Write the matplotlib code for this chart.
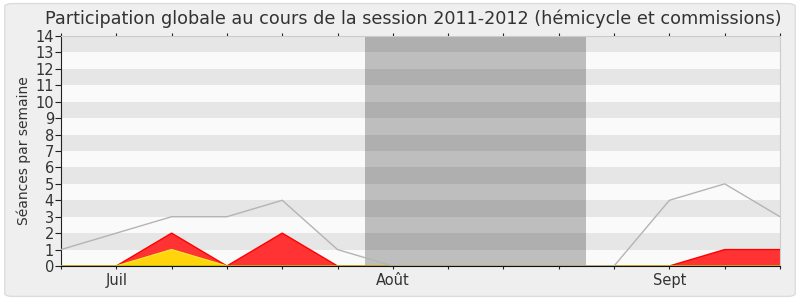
import matplotlib
matplotlib.use("Agg")
import matplotlib.pyplot as plt
from matplotlib.patches import FancyBboxPatch
import numpy as np

weeks = list(range(14))
total = [1, 2, 3, 3, 4, 1, 0, 0, 0, 0, 0, 4, 5, 3]
green_vals = [0] * 14
yellow_vals = [0, 0, 1, 0, 0, 0, 0, 0, 0, 0, 0, 0, 0, 0]
red_vals = [0, 0, 1, 0, 2, 0, 0, 0, 0, 0, 0, 0, 1, 1]
tick_labels = {1: "Juil", 6: "Août", 11: "Sept"}
vacation = (5.5, 9.5)
title = "Participation globale au cours de la session 2011-2012 (hémicycle et commissions)"
ylabel = "Séances par semaine"

plt.rcParams['font.family'] = ['DejaVu Sans']

fig = plt.figure(figsize=(8, 3), dpi=100)
fig.patch.set_facecolor("white")
bg = FancyBboxPatch((0.006, 0.012), 0.988, 0.976, boxstyle="round,pad=0,rounding_size=0.01",
                    transform=fig.transFigure, facecolor="#efefef", edgecolor="#dcdcdc",
                    linewidth=1, zorder=-10)
fig.patches.append(bg)

ax = fig.add_axes([61/800, 34/300, 719/800, 230/300])
ax.set_facecolor("#fafafa")
for k in range(14):
    ax.axhspan(k, k + 1, color="#fafafa" if k % 2 == 0 else "#e6e6e6", lw=0, zorder=0)
ax.axvspan(vacation[0], vacation[1], color="black", alpha=0.24, lw=0, zorder=0.5)

x = np.array(weeks)
g = np.array(green_vals)
y = g + np.array(yellow_vals)
r = y + np.array(red_vals)
ax.fill_between(x, y, r, facecolor="#ff3333", edgecolor="none", zorder=2)
ax.plot(x, r, color="#ff0000", lw=1, zorder=3)
ax.fill_between(x, g, y, facecolor="#ffd40a", edgecolor="none", zorder=2)
ax.plot(x, y, color="#f5e52a", lw=1, zorder=3)
ax.plot(x, g, color="#228b22", lw=1, zorder=3)
ax.plot(x, total, color="#b4b4b4", lw=1, zorder=4)

ax.set_xlim(0, 13)
ax.set_ylim(0, 14)
ax.set_yticks(range(15))
ax.set_xticks(weeks)
ax.set_xticklabels([tick_labels.get(w, "") for w in weeks])
ax.tick_params(axis="y", direction="out", length=4, labelsize=10.5, colors="#333333", pad=1)
ax.tick_params(axis="x", direction="out", length=5, labelsize=10.5, colors="#333333", pad=3)
ax.tick_params(axis="x", top=True, length=2)
for lab in ax.get_yticklabels() + ax.get_xticklabels():
    lab.set_color("#333333")
ax.tick_params(axis="both", color="#222222")
ax.spines["left"].set_color("#222222")
ax.spines["bottom"].set_color("#111111")
ax.spines["bottom"].set_zorder(5)
ax.spines["top"].set_color("#cccccc")
ax.spines["right"].set_color("#cccccc")
ax.set_ylabel(ylabel, fontsize=10, color="#333333", labelpad=3)
fig.text(0.516, 0.938, title, ha="center", va="center", fontsize=12.7, color="#333333")

fig.savefig("out.png", dpi=100, facecolor=fig.get_facecolor())
